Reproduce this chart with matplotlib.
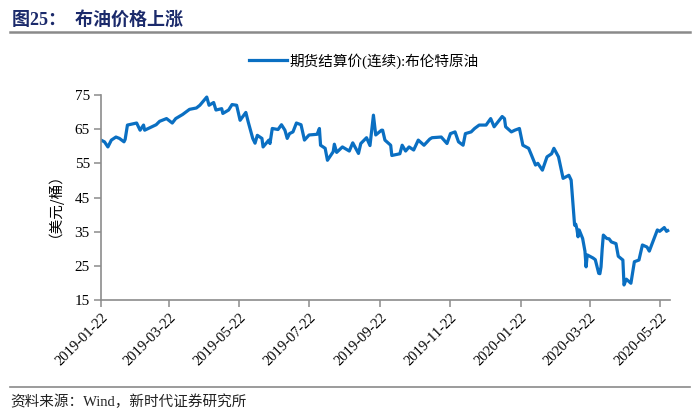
import matplotlib
matplotlib.use("Agg")
import matplotlib.pyplot as plt
import matplotlib.dates as mdates
import pandas as pd

dates = [
    "2019-01-22", "2019-01-25", "2019-01-28", "2019-01-31", "2019-02-04", "2019-02-07",
    "2019-02-11", "2019-02-12", "2019-02-14", "2019-02-18", "2019-02-22", "2019-02-25",
    "2019-02-28", "2019-03-01", "2019-03-06", "2019-03-11", "2019-03-14", "2019-03-20",
    "2019-03-25", "2019-03-28", "2019-04-03", "2019-04-09", "2019-04-15", "2019-04-18",
    "2019-04-24", "2019-04-26", "2019-04-30", "2019-05-02", "2019-05-07", "2019-05-08",
    "2019-05-13", "2019-05-16", "2019-05-20", "2019-05-23", "2019-05-28", "2019-05-30",
    "2019-06-03", "2019-06-05", "2019-06-07", "2019-06-11", "2019-06-12", "2019-06-17",
    "2019-06-18", "2019-06-20", "2019-06-25", "2019-06-28", "2019-07-01", "2019-07-03",
    "2019-07-05", "2019-07-08", "2019-07-11", "2019-07-15", "2019-07-18", "2019-07-22",
    "2019-07-29", "2019-07-31", "2019-08-01", "2019-08-05", "2019-08-07", "2019-08-12",
    "2019-08-13", "2019-08-15", "2019-08-20", "2019-08-26", "2019-08-29", "2019-09-03",
    "2019-09-05", "2019-09-10", "2019-09-13", "2019-09-16", "2019-09-18", "2019-09-23",
    "2019-09-24", "2019-09-26", "2019-10-01", "2019-10-02", "2019-10-09", "2019-10-11",
    "2019-10-14", "2019-10-17", "2019-10-21", "2019-10-25", "2019-10-30", "2019-11-04",
    "2019-11-06", "2019-11-14", "2019-11-19", "2019-11-22", "2019-11-26", "2019-11-29",
    "2019-12-03", "2019-12-05", "2019-12-10", "2019-12-13", "2019-12-17", "2019-12-23",
    "2019-12-27", "2019-12-30", "2020-01-06", "2020-01-08", "2020-01-09", "2020-01-14",
    "2020-01-17", "2020-01-21", "2020-01-24", "2020-01-29", "2020-01-31", "2020-02-04",
    "2020-02-06", "2020-02-10", "2020-02-14", "2020-02-18", "2020-02-20", "2020-02-24",
    "2020-02-28", "2020-03-04", "2020-03-06", "2020-03-09", "2020-03-10", "2020-03-11",
    "2020-03-12", "2020-03-13", "2020-03-16", "2020-03-18", "2020-03-19", "2020-03-20",
    "2020-03-25", "2020-03-27", "2020-03-30", "2020-03-31", "2020-04-01", "2020-04-02",
    "2020-04-03", "2020-04-06", "2020-04-08", "2020-04-10", "2020-04-14", "2020-04-16",
    "2020-04-20", "2020-04-21", "2020-04-23", "2020-04-27", "2020-04-30", "2020-05-04",
    "2020-05-07", "2020-05-11", "2020-05-13", "2020-05-15", "2020-05-20", "2020-05-22",
    "2020-05-26", "2020-05-28", "2020-05-29",
]
brent = [
    61.8, 61.3, 59.8, 61.8, 62.7, 62.3,
    61.3, 62.0, 66.2, 66.5, 66.8, 64.7,
    66.2, 64.7, 65.5, 66.3, 67.3, 68.1,
    66.8, 68.1, 69.3, 70.8, 71.2, 72.0,
    74.4, 72.0, 72.8, 70.6, 71.0, 69.6,
    70.6, 72.2, 72.0, 67.6, 69.9, 67.2,
    62.3, 60.9, 63.2, 62.3, 59.8, 61.8,
    60.8, 65.2, 64.9, 66.3, 64.7, 62.3,
    63.7, 64.2, 66.8, 66.3, 61.8, 63.3,
    63.5, 65.2, 60.3, 59.4, 55.9, 58.4,
    60.6, 58.2, 59.8, 58.6, 61.0, 57.9,
    60.8, 62.5, 60.2, 69.1, 63.3, 64.7,
    64.7, 61.8, 60.3, 57.3, 57.8, 60.3,
    58.6, 59.8, 58.9, 61.8, 60.3, 62.1,
    62.5, 62.7, 60.8, 63.7, 64.2, 61.3,
    60.3, 63.7, 64.2, 65.2, 66.2, 66.2,
    68.1, 65.7, 68.7, 68.1, 65.7, 64.2,
    64.7, 65.2, 60.3, 59.4, 57.8, 54.5,
    55.0, 53.0, 56.9, 57.8, 59.4, 56.9,
    50.6, 51.5, 50.1, 36.9, 37.2, 35.8,
    33.5, 35.5, 33.0, 29.3, 24.7, 28.2,
    27.3, 26.8, 22.8, 22.7, 24.7, 29.9,
    34.0, 33.0, 32.9, 32.0, 31.5, 27.8,
    26.7, 19.4, 21.1, 19.9, 26.2, 26.7,
    31.1, 30.5, 29.3, 31.1, 35.5, 35.1,
    36.2, 35.1, 35.3,
]
tick_dates = ["2019-01-22", "2019-03-22", "2019-05-22", "2019-07-22", "2019-09-22",
              "2019-11-22", "2020-01-22", "2020-03-22", "2020-05-22"]
y_ticks = [15, 25, 35, 45, 55, 65, 75]
series_name = "期货结算价(连续):布伦特原油"

MIX = ["Liberation Serif", "Noto Sans CJK SC", "DejaVu Sans"]
CJK = ["Noto Sans CJK SC", "DejaVu Sans"]
plt.rcParams["font.family"] = MIX

x = pd.to_datetime(dates)
fig = plt.figure(figsize=(7, 4.2), dpi=100)
ax = fig.add_axes([101/700, 120/420, 569/700, 205/420])

line, = ax.plot(x, brent, color="#0a6fc2", lw=2.3, solid_joinstyle="round",
                label=series_name)

ax.set_ylim(15, 75)
ax.set_yticks(y_ticks)
ax.set_xlim(pd.Timestamp("2019-01-22"), pd.Timestamp("2020-05-31"))
ax.set_xticks(pd.to_datetime(tick_dates))
ax.xaxis.set_major_formatter(mdates.DateFormatter("%Y-%m-%d"))
for lab in ax.get_xticklabels():
    lab.set_rotation(45)
    lab.set_ha("right")
    lab.set_rotation_mode("anchor")
    lab.set_fontsize(10.5)
for lab in ax.get_yticklabels():
    lab.set_fontsize(11)

for s in ["top", "right"]:
    ax.spines[s].set_visible(False)
for s in ["left", "bottom"]:
    ax.spines[s].set_color("#8c8c8c")
    ax.spines[s].set_linewidth(1.2)
ax.tick_params(axis="both", direction="out", length=5, color="#8c8c8c", width=1.1, pad=3)

ax.set_ylabel("（美元/桶）", family=CJK, fontsize=10.5, labelpad=14)

fig.legend(handles=[line], loc="center", bbox_to_anchor=(0.52, 0.855), frameon=False,
           prop={"family": MIX, "size": 10.5}, handlelength=2.6, handletextpad=0.2)

fig.text(12/700, 1 - 20/420, "图25：  布油价格上涨", family=MIX, fontsize=13,
         fontweight="bold", color="#1b2a6b", va="center", ha="left")
fig.add_artist(plt.Line2D([10/700, 690/700], [1 - 32/420, 1 - 32/420],
                          color="#8a8a8a", lw=1.8))
fig.add_artist(plt.Line2D([10/700, 690/700], [1 - 387/420, 1 - 387/420],
                          color="#8a8a8a", lw=1.2))
fig.text(10/700, 1 - 402/420, "资料来源：Wind，新时代证券研究所", family=MIX,
         fontsize=10.5, color="#222222", va="center", ha="left")

fig.savefig("out.png", dpi=100)
